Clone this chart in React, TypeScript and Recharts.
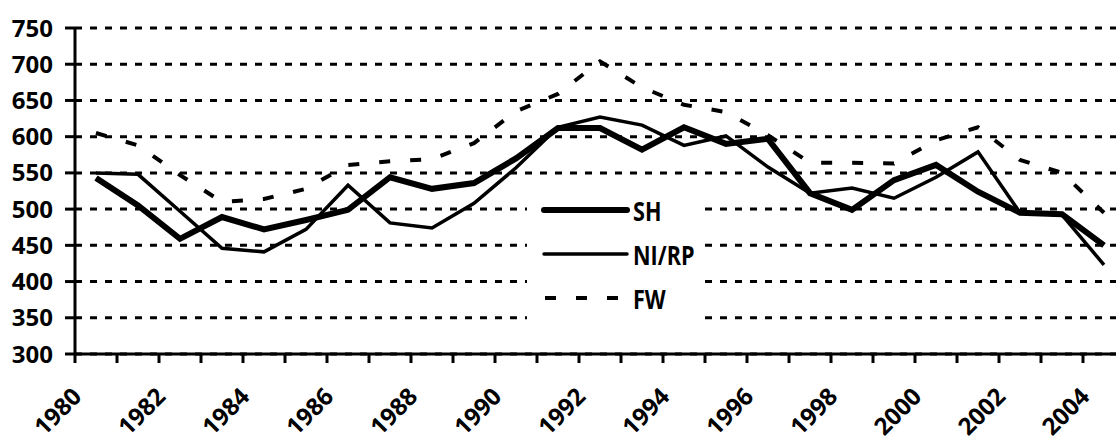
import { LineChart, Line, XAxis, YAxis, CartesianGrid, Legend } from 'recharts';

const years = [
  1980, 1981, 1982, 1983, 1984, 1985, 1986, 1987, 1988, 1989, 1990, 1991, 1992,
  1993, 1994, 1995, 1996, 1997, 1998, 1999, 2000, 2001, 2002, 2003, 2004,
];
const sh = [
  543, 505, 459, 489, 472, 485, 499, 544, 528, 536, 570, 612, 612,
  582, 613, 590, 597, 522, 499, 540, 561, 524, 495, 493, 450,
];
const niRp = [
  550, 548, 497, 446, 441, 472, 533, 481, 474, 508, 557, 613, 627,
  616, 588, 601, 558, 522, 529, 515, 544, 579, 495, 492, 423,
];
const fw = [
  605, 588, 547, 510, 514, 528, 561, 566, 569, 591, 635, 659, 704,
  668, 644, 634, 602, 564, 564, 563, 595, 613, 568, 550, 495,
];
const yTicks = [300, 350, 400, 450, 500, 550, 600, 650, 700, 750];
const xTicks = [...years, 2005];

// each year sits in the middle of its band, ticks on the band edges
const data = years.map((year, i) => ({
  pos: year + 0.5,
  SH: sh[i],
  'NI/RP': niRp[i],
  FW: fw[i],
}));

const series = [
  { key: 'SH', width: 6, dash: undefined as string | undefined },
  { key: 'NI/RP', width: 3.5, dash: undefined as string | undefined },
  { key: 'FW', width: 4, dash: '11 20' },
];

const LegendBox = () => (
  <div style={{ position: 'relative', width: 178, height: 155, background: '#fff' }}>
    {series.map((s, i) => (
      <div key={s.key}>
        <svg width={90} height={16} style={{ position: 'absolute', left: 14, top: 17 + i * 44 }}>
          <line
            x1={s.dash ? 4 : 3}
            x2={86}
            y1={8}
            y2={8}
            stroke="#000"
            strokeWidth={s.width}
            strokeDasharray={s.dash}
            strokeLinecap={s.dash ? 'butt' : 'round'}
          />
        </svg>
        <span
          style={{
            position: 'absolute',
            left: 106,
            top: 12 + i * 44,
            fontSize: 27,
            fontWeight: 700,
            lineHeight: '27px',
            display: 'inline-block',
            transform: 'scaleX(0.8)',
            transformOrigin: 'left center',
            whiteSpace: 'nowrap',
          }}
        >
          {s.key}
        </span>
      </div>
    ))}
  </div>
);

export default function App() {
  return (
    <div
      style={{
        position: 'absolute',
        left: 0,
        top: 0,
        width: 1116,
        height: 438,
        overflow: 'hidden',
        background: '#fff',
        fontFamily: '"Open Sans", sans-serif',
      }}
    >
      <LineChart width={1140} height={438} data={data} margin={{ top: 28, right: 15, left: 0, bottom: 0 }}>
        <CartesianGrid horizontal vertical={false} stroke="#000" strokeWidth={3} strokeDasharray="7 8" />
        <XAxis
          dataKey="pos"
          type="number"
          domain={[1980, 2005]}
          ticks={xTicks}
          interval={0}
          height={84}
          tickSize={9}
          axisLine={{ stroke: '#000', strokeWidth: 3 }}
          tickLine={{ stroke: '#000', strokeWidth: 3 }}
          angle={-45}
          textAnchor="end"
          dx={-4}
          dy={21}
          tickFormatter={(v: number) => (v % 2 === 0 && v <= 2004 ? String(v) : '')}
          tick={{ fill: '#000', fontSize: 24, fontWeight: 700 }}
        />
        <YAxis
          domain={[300, 750]}
          ticks={yTicks}
          interval={0}
          width={75}
          tickSize={10}
          tickMargin={12}
          axisLine={{ stroke: '#000', strokeWidth: 3 }}
          tickLine={{ stroke: '#000', strokeWidth: 3 }}
          tick={{ fill: '#000', fontSize: 24, fontWeight: 700 }}
        />
        <Legend
          layout="vertical"
          align="center"
          verticalAlign="middle"
          content={<LegendBox />}
          wrapperStyle={{ left: 527, top: 185, width: 178, height: 155 }}
        />
        {series.map((s) => (
          <Line
            key={s.key}
            type="linear"
            dataKey={s.key}
            stroke="#000"
            strokeWidth={s.width}
            strokeDasharray={s.dash}
            dot={false}
            activeDot={false}
            isAnimationActive={false}
          />
        ))}
      </LineChart>
    </div>
  );
}
